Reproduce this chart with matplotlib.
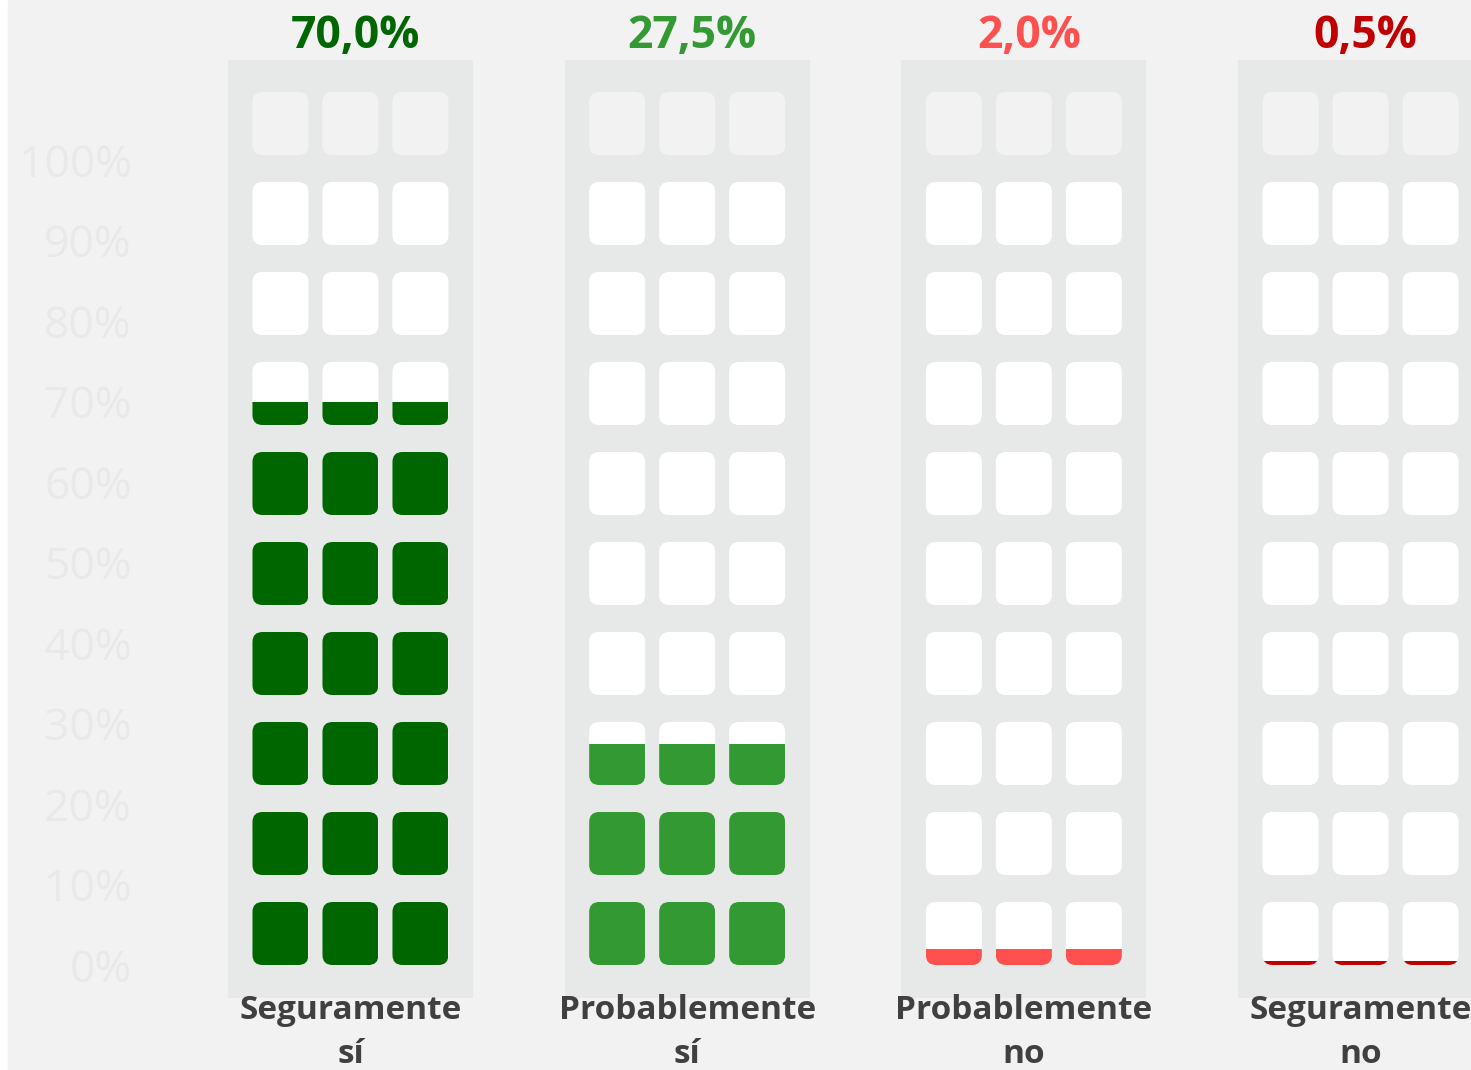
import matplotlib
matplotlib.use('Agg')
import matplotlib.pyplot as plt
from matplotlib.patches import FancyBboxPatch, Rectangle
from matplotlib.path import Path

plt.rcParams['font.family'] = ['Open Sans', 'DejaVu Sans']

# Data
categories = ['Seguramente\nsí', 'Probablemente\nsí', 'Probablemente\nno', 'Seguramente\nno']
values = [70.0, 27.5, 2.0, 0.5]
colors = ['#006600', '#339933', '#ff5050', '#c00000']
yticks = [0, 10, 20, 30, 40, 50, 60, 70, 80, 90, 100]

# Layout (pixels per data unit)
W, H = 1471, 1070
px_x = 336.7   # pixels per category
px_y = 8.05    # pixels per percent
n_rows = 10
row_step = 90 / px_y
sq_h = 63 / px_y
sq_w = 56 / px_x
sub_off = 70 / px_x
rnd = 10 / px_x
aspect = px_x / px_y

fig = plt.figure(figsize=(W / 100, H / 100), dpi=100, facecolor='white')
fig.add_artist(Rectangle((8 / W, 0), 1, 1, transform=fig.transFigure,
                         color='#f2f2f2', zorder=-10))

ax = fig.add_axes([140 / W, 0, 1 - 140 / W, 1])
ax.set_facecolor('none')
ax.set_xlim(-0.625, 3.328)
ax.set_ylim(-105 / px_y, 965 / px_y)

for i, (val, col) in enumerate(zip(values, colors)):
    # building
    ax.add_patch(Rectangle((i - 0.5 * 245 / px_x, -33 / px_y), 245 / px_x, 938 / px_y,
                           color='#e7e9e8', lw=0, zorder=1))
    for dx in (-sub_off, 0, sub_off):
        paths = []
        for k in range(n_rows):
            p = FancyBboxPatch((i + dx - sq_w / 2, k * row_step), sq_w, sq_h,
                               boxstyle=f'round,pad=0,rounding_size={rnd}',
                               mutation_aspect=aspect,
                               fc='#f2f2f2' if k == n_rows - 1 else 'white',
                               ec='none', zorder=2)
            ax.add_patch(p)
            paths.append(p.get_path())
        clip = Path.make_compound_path(*paths)
        bars = ax.bar(i + dx, val, width=sq_w, color=col, lw=0, zorder=3)
        for b in bars:
            b.set_clip_path(clip, ax.transData)

    ax.text(i + 0.015, 115.3, f'{val:.1f}%'.replace('.', ','), ha='center', va='center',
            color=col, fontsize=32, fontweight='bold')
    ax.text(i, -3.6, categories[i], ha='center', va='top', color='#404040',
            fontsize=24, fontweight='bold', linespacing=1.45)

ax.set_yticks(yticks)
ax.set_yticklabels([f'{t}%' for t in yticks])
ax.tick_params(axis='y', length=0, pad=6, labelsize=32, labelcolor='#e9e9e9')
ax.set_xticks([])
for s in ax.spines.values():
    s.set_visible(False)

fig.savefig('out.png', dpi=100, facecolor=fig.get_facecolor())
